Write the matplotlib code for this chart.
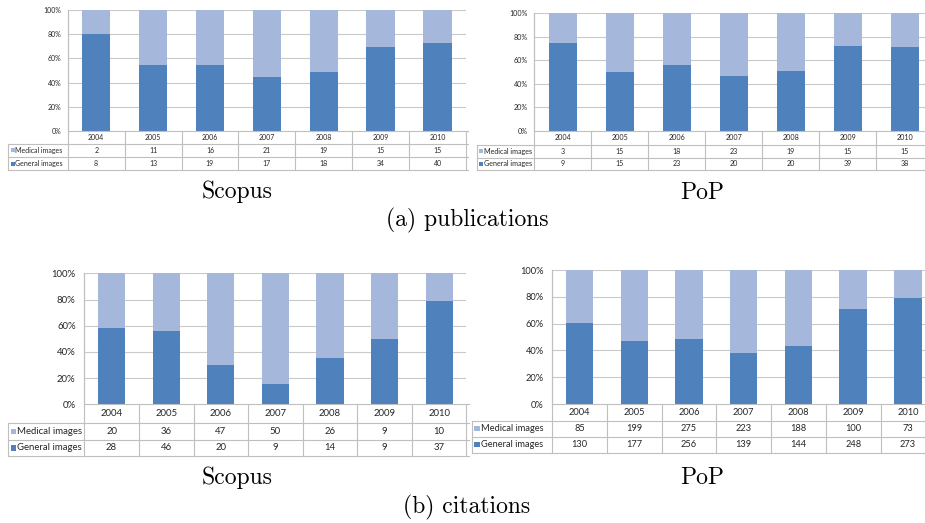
import matplotlib
matplotlib.use("Agg")
import matplotlib.pyplot as plt
from matplotlib.lines import Line2D
from matplotlib.patches import Rectangle
from matplotlib.transforms import blended_transform_factory
import numpy as np

W, H = 925, 523

years = ['2004', '2005', '2006', '2007', '2008', '2009', '2010']
series_names = ['Medical images', 'General images']
yticklabels = ['0%', '20%', '40%', '60%', '80%', '100%']

pub_scopus_medical = [2, 11, 16, 21, 19, 15, 15]
pub_scopus_general = [8, 13, 19, 17, 18, 34, 40]
pub_pop_medical = [3, 15, 18, 23, 19, 15, 15]
pub_pop_general = [9, 15, 23, 20, 20, 39, 38]
cit_scopus_medical = [20, 36, 47, 50, 26, 9, 10]
cit_scopus_general = [28, 46, 20, 9, 14, 9, 37]
cit_pop_medical = [85, 199, 275, 223, 188, 100, 73]
cit_pop_general = [130, 177, 256, 139, 144, 248, 273]

DARK = '#4F81BD'
LIGHT = '#A5B8DC'
GRID = '#C9C9C9'
LINE = '#BFBFBF'
TXT = '#262626'
TFONT = ['Lato', 'DejaVu Sans']

fig = plt.figure(figsize=(W / 100, H / 100), dpi=100)
fig.patch.set_facecolor('white')


def fx(x):
    return x / W


def fy(y):
    return 1 - y / H


def figline(x0, y0, x1, y1, color=LINE, lw=0.8):
    fig.add_artist(Line2D([fx(x0), fx(x1)], [fy(y0), fy(y1)],
                          transform=fig.transFigure, color=color, lw=lw))


def panel(medical, general, left, cellw, top, bottom, hdr_b, med_b, gen_b,
          tab_left, fs, sq):
    right = left + 7 * cellw
    ax = fig.add_axes([fx(left), fy(bottom), (right - left) / W, (bottom - top) / H])
    med = np.array(medical, float)
    gen = np.array(general, float)
    tot = med + gen
    x = np.arange(len(years))
    ax.bar(x, gen / tot, width=0.5, color=DARK, edgecolor='none', zorder=3)
    ax.bar(x, med / tot, bottom=gen / tot, width=0.5, color=LIGHT,
           edgecolor='none', zorder=3)
    ax.set_xlim(-0.5, 6.5)
    ax.set_ylim(0, 1)
    ax.set_yticks(np.linspace(0, 1, 6))
    ax.set_yticklabels(yticklabels, fontsize=fs, color=TXT, family=TFONT)
    ax.tick_params(axis='y', length=0, pad=fs * 0.9)
    ax.set_xticks([])
    for s in ['top', 'right', 'bottom']:
        ax.spines[s].set_visible(False)
    ax.spines['left'].set_color(LINE)
    ax.spines['left'].set_linewidth(0.8)
    for v in np.linspace(0.2, 1, 5):
        ax.axhline(v, color=GRID, lw=0.8, zorder=1)
    ax.set_facecolor('none')

    # data table
    tr = blended_transform_factory(ax.transData, fig.transFigure)
    figline(left, bottom, right + 2, bottom)
    for yy in (hdr_b, med_b, gen_b):
        figline(tab_left, yy, right + 2, yy)
    figline(tab_left, hdr_b, tab_left, gen_b)
    figline(left, top, left, gen_b)
    for i in range(7):
        xb = left + (i + 1) * cellw
        figline(xb, bottom, xb, gen_b)
    for i, yr in enumerate(years):
        ax.text(i, fy((bottom + hdr_b) / 2), yr, transform=tr, ha='center',
                va='center', fontsize=fs, color=TXT, family=TFONT, clip_on=False)
        ax.text(i, fy((hdr_b + med_b) / 2), str(medical[i]), transform=tr,
                ha='center', va='center', fontsize=fs, color=TXT, family=TFONT,
                clip_on=False)
        ax.text(i, fy((med_b + gen_b) / 2), str(general[i]), transform=tr,
                ha='center', va='center', fontsize=fs, color=TXT, family=TFONT,
                clip_on=False)
    for (yt, yb), name, col in zip([(hdr_b, med_b), (med_b, gen_b)],
                                   series_names, [LIGHT, DARK]):
        yc = (yt + yb) / 2
        fig.add_artist(Rectangle((fx(tab_left + 2.5), fy(yc + sq / 2)),
                                 sq / W, sq / H, transform=fig.transFigure,
                                 facecolor=col, edgecolor='none'))
        fig.text(fx(tab_left + 3.5 + sq), fy(yc), name, ha='left', va='center',
                 fontsize=fs, color=TXT, family=TFONT)
    return ax


panel(pub_scopus_medical, pub_scopus_general, 67.7, 56.9, 10, 131, 143.5, 157,
      170, 8, 5.0, 4)
panel(pub_pop_medical, pub_pop_general, 534.3, 57.0, 13.3, 131, 145, 157.5,
      170, 476.7, 5.1, 4)
panel(cit_scopus_medical, cit_scopus_general, 84.3, 54.6, 273.3, 404.3, 423.3,
      440, 455.5, 8, 6.9, 5.5)
panel(cit_pop_medical, cit_pop_general, 552.3, 54.7, 270, 404, 420.7, 436.7,
      452.7, 471.7, 6.7, 5.5)

CAP = 'cmr10'
fig.text(fx(237), fy(192), 'Scopus', ha='center', va='center', fontsize=17,
         family=CAP)
fig.text(fx(702), fy(193), 'PoP', ha='center', va='center', fontsize=17,
         family=CAP)
fig.text(fx(467), fy(220), '(a) publications', ha='center', va='center',
         fontsize=17, family=CAP)
fig.text(fx(237), fy(478), 'Scopus', ha='center', va='center', fontsize=17,
         family=CAP)
fig.text(fx(702), fy(478), 'PoP', ha='center', va='center', fontsize=17,
         family=CAP)
fig.text(fx(467), fy(507), '(b) citations', ha='center', va='center',
         fontsize=17, family=CAP)

fig.savefig('out.png', dpi=100)
